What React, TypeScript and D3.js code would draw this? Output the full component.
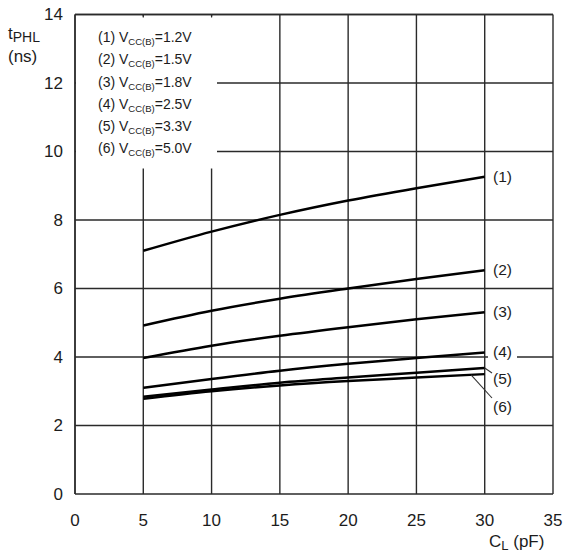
import React from "react";
import * as d3 from "d3";

const xTicks = [0, 5, 10, 15, 20, 25, 30, 35];
const yTicks = [0, 2, 4, 6, 8, 10, 12, 14];
const cl = [5, 10, 15, 20, 25, 30];
const s1 = [7.1, 7.66, 8.15, 8.57, 8.93, 9.26];
const s2 = [4.92, 5.35, 5.7, 6.0, 6.28, 6.53];
const s3 = [3.97, 4.33, 4.62, 4.87, 5.1, 5.31];
const s4 = [3.1, 3.36, 3.6, 3.8, 3.97, 4.13];
const s5 = [2.84, 3.05, 3.25, 3.4, 3.54, 3.68];
const s6 = [2.78, 3.0, 3.17, 3.3, 3.4, 3.5];
const seriesList = [s1, s2, s3, s4, s5, s6];
const legendVolts = ["1.2V", "1.5V", "1.8V", "2.5V", "3.3V", "5.0V"];
const endLabels = ["(1)", "(2)", "(3)", "(4)", "(5)", "(6)"];

const font = "'Liberation Sans', Arial, sans-serif";

export default function App() {
  const x = d3.scaleLinear().domain([0, 35]).range([75, 553]);
  const y = d3.scaleLinear().domain([0, 14]).range([494, 14.5]);
  const line = d3
    .line<number>()
    .x((_, i) => x(cl[i]))
    .y((d) => y(d))
    .curve(d3.curveMonotoneX);
  const grid = "#2a2a2a";
  const txt = "#1c1c1c";
  const labelY = [177, 270, 312, 352, 379, 407];
  return (
    <svg width={566} height={555} style={{ position: "absolute", left: 0, top: 0 }}>
      <rect x={0} y={0} width={566} height={555} fill="#fff" />
      {xTicks.map((t) => (
        <line key={"vx" + t} x1={x(t)} x2={x(t)} y1={y(14)} y2={y(0)} stroke={grid} strokeWidth={1.4} />
      ))}
      {yTicks.map((t) => (
        <line key={"hy" + t} x1={x(0)} x2={x(35)} y1={y(t)} y2={y(t)} stroke={grid} strokeWidth={1.4} />
      ))}
      {/* legend background */}
      <rect x={x(0) + 1} y={y(14) + 2} width={141} height={152} fill="#fff" />
      {/* gap behind label (4) */}
      <rect x={488} y={y(4) - 8} width={29} height={16} fill="#fff" />
      <line x1={x(0)} x2={x(35)} y1={y(14)} y2={y(14)} stroke={grid} strokeWidth={1.4} />
      <line x1={x(0)} x2={x(0)} y1={y(14)} y2={y(0)} stroke={grid} strokeWidth={1.4} />
      {[5, 10].map((t) => (
        <line key={"tk" + t} x1={x(t)} x2={x(t)} y1={y(14)} y2={y(14) + 3} stroke={grid} strokeWidth={1.2} />
      ))}
      {seriesList.map((s, i) => (
        <path key={"s" + i} d={line(s) || ""} fill="none" stroke="#000" strokeWidth={2.5} />
      ))}
      {/* leader lines */}
      <line x1={x(30)} y1={y(s5[5])} x2={492} y2={373} stroke="#333" strokeWidth={1.1} />
      <line x1={x(29)} y1={y(3.48)} x2={492} y2={398} stroke="#333" strokeWidth={1.1} />
      {endLabels.map((l, i) => (
        <text key={"el" + i} x={493} y={labelY[i]} dy="0.35em" fontFamily={font} fontSize={15.5} fill={txt}>
          {l}
        </text>
      ))}
      {legendVolts.map((v, i) => (
        <text key={"lg" + i} x={98} y={37 + i * 22.3} dy="0.35em" fontFamily={font} fontSize={14} fill={txt}>
          {`(${i + 1}) V`}
          <tspan fontSize={9.5} dy={3}>CC(B)</tspan>
          <tspan dy={-3}>{`=${v}`}</tspan>
        </text>
      ))}
      {yTicks.map((t) => (
        <text key={"yl" + t} x={63} y={y(t)} dy="0.35em" textAnchor="end" fontFamily={font} fontSize={17} fill={txt}>
          {t}
        </text>
      ))}
      {xTicks.map((t) => (
        <text key={"xl" + t} x={x(t)} y={520} dy="0.35em" textAnchor="middle" fontFamily={font} fontSize={17} fill={txt}>
          {t}
        </text>
      ))}
      <text x={8} y={39} fontFamily={font} fontSize={17} fill={txt}>
        t<tspan fontSize={14} dy={3}>PHL</tspan>
      </text>
      <text x={8} y={62} fontFamily={font} fontSize={17} fill={txt}>
        (ns)
      </text>
      <text x={489} y={547} fontFamily={font} fontSize={17} fill={txt}>
        C<tspan fontSize={13} dy={3}>L</tspan>
        <tspan dy={-3}> (pF)</tspan>
      </text>
    </svg>
  );
}
